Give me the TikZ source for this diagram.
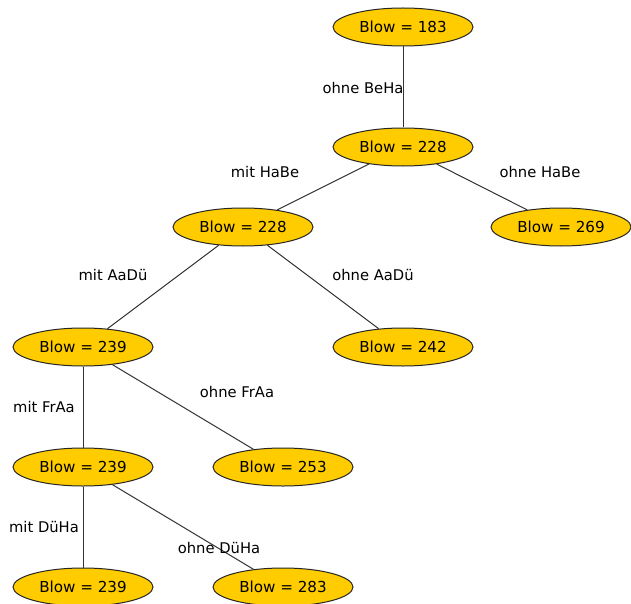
\documentclass[tikz,border=0pt]{standalone}
\usepackage{fontspec}
\setmainfont{DejaVu Sans}
\usetikzlibrary{shapes.geometric}
\definecolor{nodegold}{HTML}{FFCC00}
\definecolor{edgegray}{HTML}{333333}
\begin{document}
\begin{tikzpicture}[x=1bp,y=-1bp,
  blow/.style={ellipse, draw=black!85, line width=1bp, fill=nodegold,
    minimum width=140bp, minimum height=38bp, inner sep=0pt,
    font=\fontsize{15.2}{17}\selectfont},
  branch/.style={draw=edgegray, line width=1bp},
  lbl/.style={font=\fontsize{14.8}{17}\selectfont, inner sep=0pt}]
\useasboundingbox (0,0) rectangle (631,604);
\fill[white] (0,0) rectangle (631,604);
% nodes
\node[blow] (n1)  at (403,27)  {Blow = 183};
\node[blow] (n2)  at (403,147) {Blow = 228};
\node[blow] (n3)  at (243,227) {Blow = 228};
\node[blow] (n4)  at (561,227) {Blow = 269};
\node[blow] (n5)  at (83,347)  {Blow = 239};
\node[blow] (n6)  at (403,347) {Blow = 242};
\node[blow] (n7)  at (83,467)  {Blow = 239};
\node[blow] (n8)  at (283,467) {Blow = 253};
\node[blow] (n9)  at (83,587)  {Blow = 239};
\node[blow] (n10) at (283,587) {Blow = 283};
% connectors
\draw[branch] (n1) -- (n2);
\draw[branch] (n2) -- (n3);
\draw[branch] (n2) -- (n4);
\draw[branch] (n3) -- (n5);
\draw[branch] (n3) -- (n6);
\draw[branch] (n5) -- (n7);
\draw[branch] (n5) -- (n8);
\draw[branch] (n7) -- (n9);
\draw[branch] (n7) -- (n10);
% edge labels
\node[lbl] (l1) at (363,88)  {ohne BeHa};
\node[lbl] (l2) at (265,172) {mit HaBe};
\node[lbl] (l3) at (540,172) {ohne HaBe};
\node[lbl] (l4) at (113,275) {mit AaDü};
\node[lbl] (l5) at (373,275) {ohne AaDü};
\node[lbl] (l6) at (44,407)  {mit FrAa};
\node[lbl] (l7) at (237,392) {ohne FrAa};
\node[lbl] (l8) at (44,527)  {mit DüHa};
\node[lbl] (l9) at (219,548) {ohne DüHa};
\end{tikzpicture}
\end{document}
